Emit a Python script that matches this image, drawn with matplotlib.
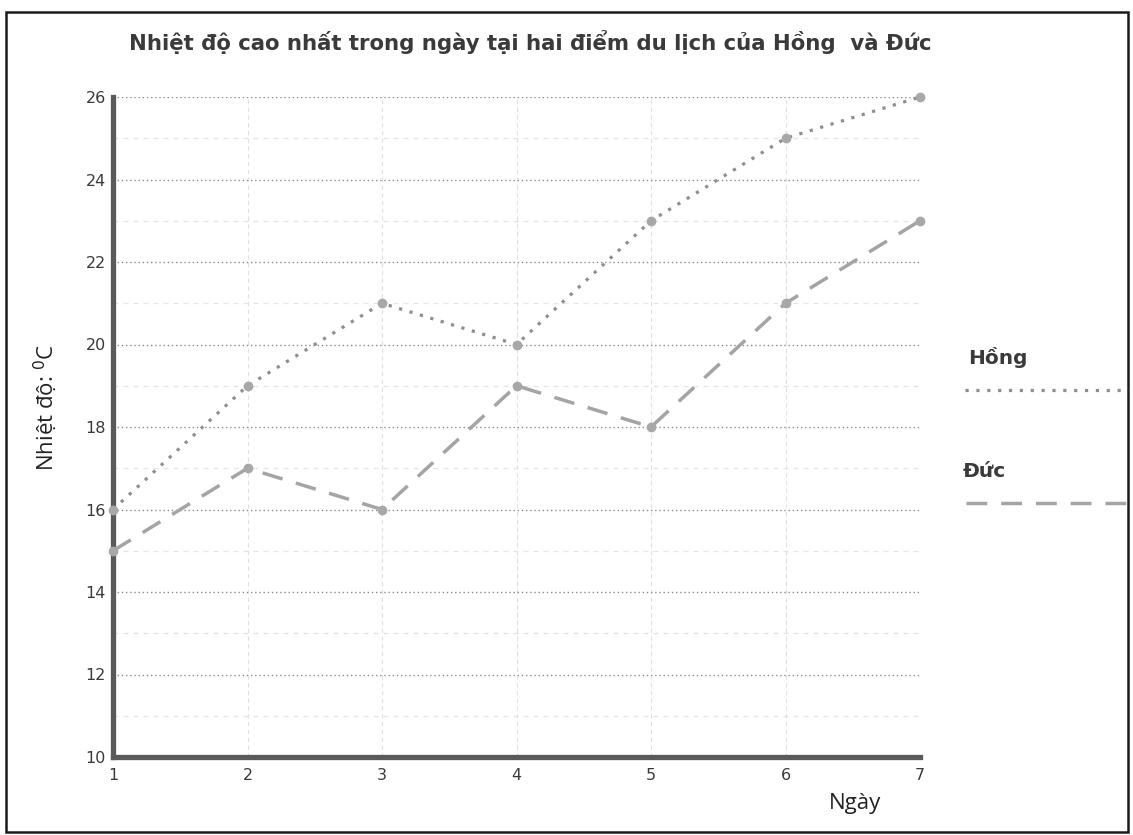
import matplotlib
matplotlib.use("Agg")
import matplotlib.pyplot as plt
from matplotlib.lines import Line2D
from matplotlib.patches import Rectangle

days = [1, 2, 3, 4, 5, 6, 7]
hong = [16, 19, 21, 20, 23, 25, 26]
duc = [15, 17, 16, 19, 18, 21, 23]
y_ticks = [10, 12, 14, 16, 18, 20, 22, 24, 26]
y_minor = [11, 13, 15, 17, 19, 21, 23, 25]

W, H = 1133, 835
fig = plt.figure(figsize=(W / 100, H / 100), dpi=100)

def fx(px):
    return px / W

def fy(py):
    return 1 - py / H

left, right, top, bottom = 113, 920, 97, 757
ax = fig.add_axes([fx(left), fy(bottom), fx(right - left), (bottom - top) / H])

hong_col = "#8e8e8e"
duc_col = "#a4a4a4"
ax.plot(days, hong, color=hong_col, lw=2.3, linestyle=(0, (1, 2.4)),
        marker="o", ms=6, mfc="#a8a8a8", mec="#a8a8a8", zorder=3, clip_on=False)
ax.plot(days, duc, color=duc_col, lw=2.5, linestyle=(0, (6, 4)),
        marker="o", ms=6, mfc="#a8a8a8", mec="#a8a8a8", zorder=3, clip_on=False)

ax.set_xlim(1, 7)
ax.set_ylim(10, 26)
ax.set_xticks(days)
ax.set_yticks(y_ticks)
ax.set_yticks(y_minor, minor=True)

ax.grid(True, which="major", axis="y", color="#8a8a8a", lw=1.0, linestyle=(0, (1, 2)))
ax.grid(True, which="minor", axis="y", color="#e4e4e4", lw=0.9, linestyle=(0, (4, 4)))
ax.grid(True, which="major", axis="x", color="#e0e0e0", lw=0.8, linestyle=(0, (4, 3)))

for s in ["top", "right"]:
    ax.spines[s].set_visible(False)
for s in ["left", "bottom"]:
    ax.spines[s].set_color("#5a5a5a")
    ax.spines[s].set_linewidth(3.8)

ax.tick_params(axis="both", which="both", length=0, labelsize=11.5, labelcolor="#3a3a3a")
ax.tick_params(axis="y", pad=5)
ax.tick_params(axis="x", pad=8)

fig.text(fx(530), fy(42), "Nhiệt độ cao nhất trong ngày tại hai điểm du lịch của Hồng  và Đức",
         ha="center", va="center", fontsize=15.3, fontweight="bold", color="#3a3a3a",
         family="DejaVu Sans")

fig.text(fx(45), fy(408), "Nhiệt độ: $^0$C", rotation=90, ha="center", va="center",
         fontsize=16, color="#222222", family="Open Sans")
fig.text(fx(855), fy(803), "Ngày", ha="center", va="center",
         fontsize=16, color="#222222", family="Open Sans")

# legend placed to the right of the plot: label above a line sample
fig.text(fx(968), fy(358), "Hồng", ha="left", va="center", fontsize=14.5,
         fontweight="bold", color="#3a3a3a", family="DejaVu Sans")
fig.add_artist(Line2D([fx(965), fx(1128)], [fy(390), fy(390)], color=hong_col,
                      lw=2.3, linestyle=(0, (1, 2.4)), transform=fig.transFigure))
fig.text(fx(963), fy(472), "Đức", ha="left", va="center", fontsize=14.5,
         fontweight="bold", color="#3a3a3a", family="DejaVu Sans")
fig.add_artist(Line2D([fx(966), fx(1126)], [fy(503), fy(503)], color=duc_col,
                      lw=2.5, linestyle=(0, (6, 4)), transform=fig.transFigure))

# outer frame
fig.add_artist(Rectangle((fx(6), fy(832)), fx(1122), (832 - 12) / H, fill=False,
                         edgecolor="#1a1a1a", lw=1.8, transform=fig.transFigure))

fig.savefig("out.png", dpi=100)
